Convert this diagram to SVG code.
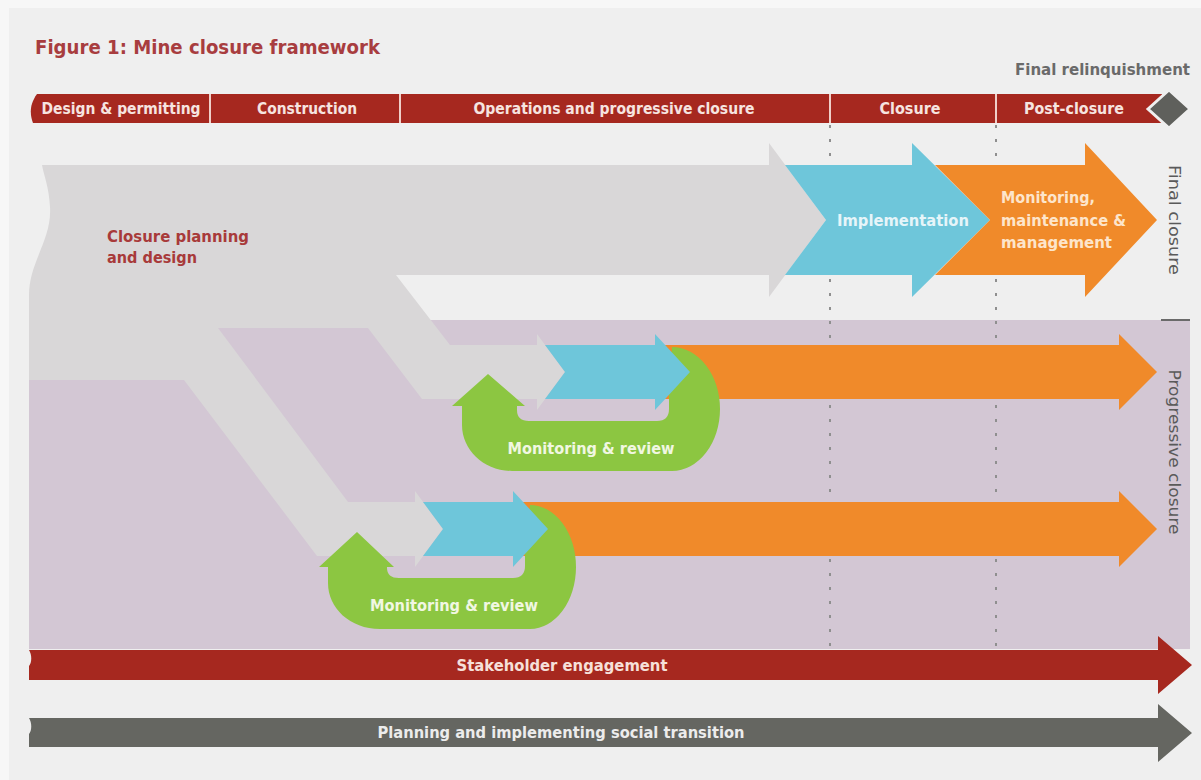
<svg xmlns="http://www.w3.org/2000/svg" width="1201" height="780" viewBox="0 0 1201 780">
<style>
text{font-family:"DejaVu Sans Condensed","Liberation Sans Narrow","Liberation Sans",Arial,sans-serif;font-weight:bold}
.bar{fill:#f6e4e0;font-size:15px;text-anchor:middle}
.side{fill:#5a5a5a;font-weight:normal;font-size:15px;text-anchor:middle}
.grey{fill:#d9d7d8}
.blue{fill:#6ec6da}
.orange{fill:#f08a2a}
.green{fill:#8cc641}
.red{fill:#a6281f}
.dark{fill:#656661}
.gtxt{fill:#f1f7e2;font-size:15px;text-anchor:middle}
.div{stroke:#f0cfc9;stroke-width:2}
.dots{stroke:#8f8f8f;stroke-width:2;stroke-dasharray:3 11;fill:none}
</style>
<rect width="1201" height="780" fill="#f7f7f7"/>
<rect x="9" y="8" width="1192" height="772" fill="#efefef"/>

<g id="title">
<text x="35" y="54" font-size="20" fill="#a83d3f" textLength="345" lengthAdjust="spacingAndGlyphs">Figure 1: Mine closure framework</text>
<text x="1190" y="75" font-size="15" fill="#6a6a6a" text-anchor="end" textLength="175" lengthAdjust="spacingAndGlyphs">Final relinquishment</text>
</g>

<g id="phases">
<path class="red" d="M37,94 L1162,94 L1162,123 L33,123 C30,115 29,105 37,94 Z"/>
<line class="div" x1="210" y1="94" x2="210" y2="123"/>
<line class="div" x1="400" y1="94" x2="400" y2="123"/>
<line class="div" x1="830" y1="94" x2="830" y2="123"/>
<line class="div" x1="996" y1="94" x2="996" y2="123"/>
<polygon points="1148,109 1169,90 1190,109 1169,128" fill="#5f605c" stroke="#efefef" stroke-width="3"/>
<text class="bar" x="121" y="114" textLength="159" lengthAdjust="spacingAndGlyphs">Design &amp; permitting</text>
<text class="bar" x="307" y="114" textLength="100" lengthAdjust="spacingAndGlyphs">Construction</text>
<text class="bar" x="614" y="114" textLength="281" lengthAdjust="spacingAndGlyphs">Operations and progressive closure</text>
<text class="bar" x="910" y="114" textLength="61" lengthAdjust="spacingAndGlyphs">Closure</text>
<text class="bar" x="1074" y="114" textLength="100" lengthAdjust="spacingAndGlyphs">Post-closure</text>
</g>

<g id="progressive-area">
<rect x="29" y="320" width="1161" height="329" fill="#d3c7d4"/>
<line x1="1161" y1="320" x2="1190" y2="320" stroke="#6a6a6a" stroke-width="2"/>
</g>

<g id="connectors">
<line class="dots" x1="830" y1="125" x2="830" y2="648"/>
<line class="dots" x1="996" y1="125" x2="996" y2="648"/>
</g>

<g id="closure-planning">
<path class="grey" d="M42,165 L769,165 L769,143 L826,220 L769,297 L769,275 L396,275 L450,345 L537,345 L537,334 L565,372 L537,410 L537,399 L422,399 L368,328 L218,328 L348,502 L415,502 L415,491 L443,529 L415,567 L415,556 L317,556 L184,380 L29,380 L29,295 C29,262 52,240 50,207 C49,187 44,176 42,165 Z"/>
<text x="107" y="242" font-size="16" fill="#a83a3a" textLength="142" lengthAdjust="spacingAndGlyphs">Closure planning</text>
<text x="107" y="263" font-size="16" fill="#a83a3a" textLength="90" lengthAdjust="spacingAndGlyphs">and design</text>
</g>

<g id="final-closure">
<path class="blue" d="M785,165 L912,165 L912,143 L990,220 L912,297 L912,275 L785,275 L826,220 Z"/>
<path class="orange" d="M935,165 L1085,165 L1085,143 L1157,220 L1085,297 L1085,275 L935,275 L990,220 Z"/>
<text x="903" y="226" font-size="16" fill="#e6f5f9" text-anchor="middle" textLength="132" lengthAdjust="spacingAndGlyphs">Implementation</text>
<text x="1001" y="203" font-size="15" fill="#fde5cb" textLength="94" lengthAdjust="spacingAndGlyphs">Monitoring,</text>
<text x="1001" y="226" font-size="15" fill="#fde5cb" textLength="125" lengthAdjust="spacingAndGlyphs">maintenance &amp;</text>
<text x="1001" y="248" font-size="15" fill="#fde5cb" textLength="111" lengthAdjust="spacingAndGlyphs">management</text>
<text class="side" transform="translate(1169,220) rotate(90)" textLength="110" lengthAdjust="spacingAndGlyphs">Final closure</text>
</g>

<g id="progressive-1">
<path class="orange" d="M660,345 L1119,345 L1119,334 L1157,372 L1119,410 L1119,399 L660,399 Z"/>
<path class="green" d="M452,406 L488,374 L525,406 L517,406 L517,410 Q517,421 529,421 L657,421 Q669,421 669,409 L669,395 L672,347 A48,62 0 0 1 672,471 L512,471 C484,471 462,450 462,425 L462,406 Z"/>
<path class="blue" d="M545,345 L655,345 L655,334 L690,372 L655,410 L655,399 L545,399 L565,372 Z"/>
<text class="gtxt" x="591" y="454" textLength="167" lengthAdjust="spacingAndGlyphs">Monitoring &amp; review</text>
</g>

<g id="progressive-2">
<path class="orange" d="M520,502 L1119,502 L1119,491 L1157,529 L1119,567 L1119,556 L520,556 Z"/>
<path class="green" d="M319,567 L357,532 L394,567 L387,567 L387,568 Q387,578 399,578 L513,578 Q525,578 525,566 L525,552 L530,505 A46,62 0 0 1 530,629 L380,629 C350,629 328,608 328,583 L328,567 Z"/>
<path class="blue" d="M423,502 L513,502 L513,491 L548,529 L513,567 L513,556 L423,556 L443,529 Z"/>
<text class="gtxt" x="454" y="611" textLength="168" lengthAdjust="spacingAndGlyphs">Monitoring &amp; review</text>
<text class="side" transform="translate(1169,452) rotate(90)" textLength="165" lengthAdjust="spacingAndGlyphs">Progressive closure</text>
</g>

<g id="stakeholder">
<path class="red" d="M29,650 L1158,650 L1158,636 L1192,665 L1158,694 L1158,680 L29,680 L29,666 C32,662 32,655 29,650 Z"/>
<text x="562" y="671" font-size="15" fill="#f6e0da" text-anchor="middle" textLength="211" lengthAdjust="spacingAndGlyphs">Stakeholder engagement</text>
</g>

<g id="social">
<path class="dark" d="M29,718 L1158,718 L1158,704 L1192,733 L1158,762 L1158,747 L29,747 L29,734 C32,730 32,723 29,718 Z"/>
<text x="561" y="738" font-size="15" fill="#ececec" text-anchor="middle" textLength="367" lengthAdjust="spacingAndGlyphs">Planning and implementing social transition</text>
</g>
</svg>
